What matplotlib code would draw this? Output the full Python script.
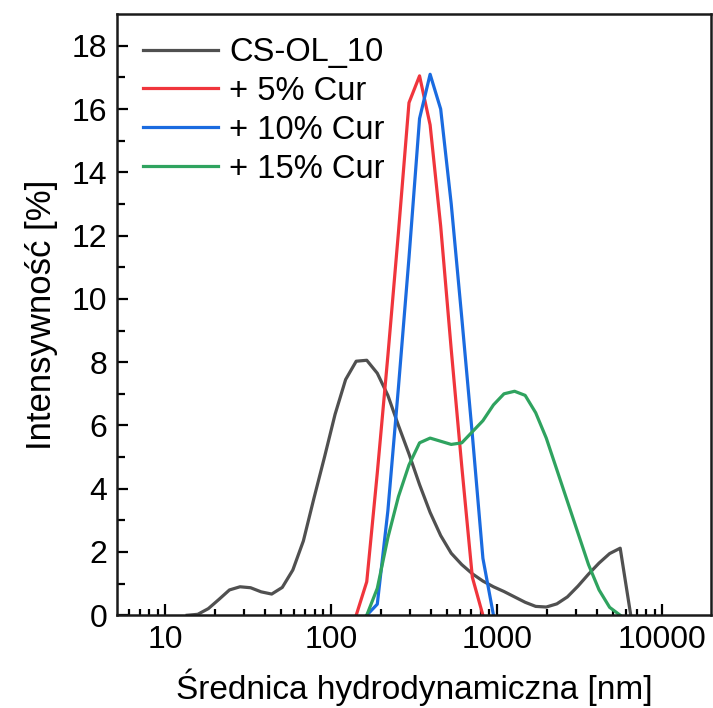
import numpy as np
import matplotlib.pyplot as plt

plt.rcParams['font.family'] = ['Liberation Sans', 'DejaVu Sans']

# sizes [nm] (DLS bins) and intensities [%]
d_ref = [13.54, 15.69, 18.17, 21.04, 24.36, 28.21, 32.67, 37.84, 43.82, 50.75,
         58.77, 68.06, 78.82, 91.28, 105.7, 122.4, 141.8, 164.2, 190.1, 220.2,
         255.0, 295.3, 342.0, 396.1, 458.7, 531.2, 615.1, 712.4, 825.0, 955.4,
         1106, 1281, 1484, 1718, 1990, 2305, 2669, 3091, 3580, 4145, 4801, 5560,
         6439]
i_ref = [0, 0.03, 0.21, 0.5, 0.8, 0.9, 0.87, 0.74, 0.67, 0.88,
         1.43, 2.35, 3.7, 5.0, 6.35, 7.45, 8.03, 8.06, 7.65, 6.95,
         6.0, 5.1, 4.13, 3.25, 2.52, 1.96, 1.6, 1.31, 1.08, 0.9,
         0.75, 0.58, 0.41, 0.28, 0.26, 0.36, 0.58, 0.92, 1.3, 1.65, 1.95, 2.12,
         0]

d_5 = [141.8, 164.2, 190.1, 220.2, 255.0, 295.3, 342.0, 396.1, 458.7, 531.2,
       615.1, 712.4, 825.0]
i_5 = [0, 1.06, 4.5, 8.2, 12.1, 16.2, 17.05, 15.5, 12.3, 8.4, 4.7, 1.2, 0]

d_10 = [164.2, 190.1, 220.2, 255.0, 295.3, 342.0, 396.1, 458.7, 531.2, 615.1,
        712.4, 825.0, 955.4]
i_10 = [0, 0.35, 3.3, 7.2, 11.3, 15.7, 17.1, 16.0, 13.0, 9.4, 5.7, 1.8, 0]

d_15 = [164.2, 190.1, 220.2, 255.0, 295.3, 342.0, 396.1, 458.7, 531.2, 615.1,
        712.4, 825.0, 955.4, 1106, 1281, 1484, 1718, 1990, 2305, 2669,
        3091, 3580, 4145, 4801, 5560]
i_15 = [0, 0.85, 2.45, 3.75, 4.75, 5.45, 5.6, 5.5, 5.4, 5.45,
        5.8, 6.15, 6.65, 7.0, 7.08, 6.95, 6.4, 5.6, 4.6, 3.6,
        2.6, 1.6, 0.8, 0.25, 0]

labels = ['CS-OL_10', '+ 5% Cur', '+ 10% Cur', '+ 15% Cur']
colors = ['#505050', '#F0353C', '#1A6BE0', '#2FA35F']

fig = plt.figure(figsize=(7.13, 7.08), dpi=100)
ax = fig.add_axes([0.164, 0.131, 0.833, 0.849])

for d, i, lab, c in zip([d_ref, d_5, d_10, d_15], [i_ref, i_5, i_10, i_15], labels, colors):
    ax.plot(d, i, color=c, lw=2.3, label=lab)

ax.set_xscale('log')
ax.set_xlim(5.1, 19600)
ax.set_ylim(0, 19)
ax.set_yticks(np.arange(0, 19, 2))
ax.set_yticks(np.arange(1, 19, 2), minor=True)
ax.set_xticks([10, 100, 1000, 10000])
ax.set_xticklabels(['10', '100', '1000', '10000'])

ax.tick_params(which='both', direction='in', top=False, right=False, labelsize=23, width=1.6)
ax.tick_params(which='major', length=8, pad=7)
ax.tick_params(which='minor', length=4.5)
ax.tick_params(axis='y', which='minor', length=6)
for s in ax.spines.values():
    s.set_linewidth(1.8)
    s.set_color('#1a1a1a')

ax.set_xlabel('Średnica hydrodynamiczna [nm]', fontsize=24, labelpad=10)
ax.set_ylabel('Intensywność [%]', fontsize=25, labelpad=10)

ax.legend(loc='upper left', bbox_to_anchor=(0.005, 1.0), frameon=False, fontsize=23.5,
          handlelength=2.3, handletextpad=0.35, labelspacing=0.24, borderaxespad=0.3)

fig.savefig('out.png', dpi=100)
